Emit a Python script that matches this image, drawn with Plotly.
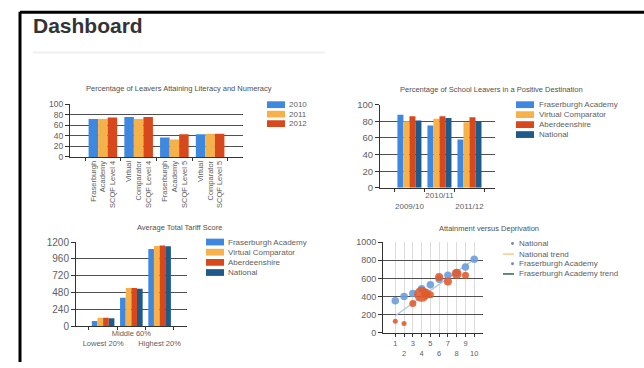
import plotly.graph_objects as go

W, H = 644, 368

# ---- data -------------------------------------------------------------
lit_categories = [
    "Fraserburgh<br>Academy<br>SCQF Level 4",
    "Virtual<br>Comparator<br>SCQF Level 4",
    "Fraserburgh<br>Academy<br>SCQF Level 5",
    "Virtual<br>Comparator<br>SCQF Level 5",
]
lit_years = ["2010", "2011", "2012"]
lit_2010 = [72, 76, 37, 43]
lit_2011 = [72, 72, 33, 44]
lit_2012 = [75, 76, 43, 44]

dest_categories = ["2009/10", "2010/11", "2011/12"]
dest_series = ["Fraserburgh Academy", "Virtual Comparator", "Aberdeenshire", "National"]
dest_fraserburgh = [88, 75, 58]
dest_virtual = [80, 83, 79]
dest_aberdeenshire = [86, 86, 85]
dest_national = [81, 84, 80]

tariff_categories = ["Lowest 20%", "Middle 60%", "Highest 20%"]
tariff_fraserburgh = [74, 405, 1100]
tariff_virtual = [120, 545, 1145]
tariff_aberdeenshire = [120, 545, 1150]
tariff_national = [115, 535, 1140]

deciles = [1, 2, 3, 4, 5, 6, 7, 8, 9, 10]
national_attainment = [355, 400, 435, 485, 530, 590, 635, 660, 725, 810]
fa_decile = [1, 2, 3, 4, 4.5, 5, 6, 7, 8, 9]
fa_attainment = [130, 105, 325, 425, 430, 420, 615, 565, 650, 635]
fa_pupils = [5, 5, 7, 15, 10, 7, 8, 8, 10, 7]
trend_decile = [1, 10]
trend_attainment = [190, 810]
scatter_legend = ["National", "National trend", "Fraserburgh Academy", "Fraserburgh Academy trend"]

# ---- styling ----------------------------------------------------------
BLUE = "#3f88e0"
AMBER = "#f6b24a"
RED = "#d8481d"
NAVY = "#1e5a8a"
TXT = "#606060"
GRID = "#505050"
FONT = "Liberation Sans, Arial, sans-serif"


def px(x):
    return x / W


def py(y):
    return 1 - y / H


fig = go.Figure()

# Chart 1: literacy and numeracy
for name, vals, col in zip(lit_years, [lit_2010, lit_2011, lit_2012], [BLUE, AMBER, RED]):
    fig.add_trace(go.Bar(x=lit_categories, y=vals, name=name, marker_color=col,
                         marker_line_width=0, xaxis="x", yaxis="y", showlegend=False))

# Chart 2: positive destinations
for name, vals, col in zip(dest_series,
                           [dest_fraserburgh, dest_virtual, dest_aberdeenshire, dest_national],
                           [BLUE, AMBER, RED, NAVY]):
    fig.add_trace(go.Bar(x=dest_categories, y=vals, name=name, marker_color=col,
                         marker_line_width=0, xaxis="x2", yaxis="y2", showlegend=False))

# Chart 3: tariff score
for name, vals, col in zip(dest_series,
                           [tariff_fraserburgh, tariff_virtual, tariff_aberdeenshire, tariff_national],
                           [BLUE, AMBER, RED, NAVY]):
    fig.add_trace(go.Bar(x=tariff_categories, y=vals, name=name, marker_color=col,
                         marker_line_width=0, xaxis="x3", yaxis="y3", showlegend=False))

# Chart 4: attainment versus deprivation
fig.add_trace(go.Scatter(x=trend_decile, y=trend_attainment, mode="lines",
                         line=dict(color="#a9c3e6", width=1.2),
                         xaxis="x4", yaxis="y4", showlegend=False))
fig.add_trace(go.Scatter(x=deciles, y=national_attainment, mode="markers",
                         marker=dict(size=7.5, color="#6c9de0", opacity=0.9, line_width=0),
                         xaxis="x4", yaxis="y4", showlegend=False))
fig.add_trace(go.Scatter(x=fa_decile, y=fa_attainment, mode="markers",
                         marker=dict(size=fa_pupils, color="#e0592a", opacity=0.88, line_width=0),
                         xaxis="x4", yaxis="y4", showlegend=False))


def yaxis_style(dom_top, dom_bot, rng, dtick, size):
    return dict(domain=[py(dom_bot), py(dom_top)], range=rng, dtick=dtick,
                showgrid=True, gridcolor=GRID, gridwidth=1, showline=True,
                linecolor="#333", linewidth=1, ticks="outside", ticklen=4,
                tickcolor="#333", zeroline=False, fixedrange=True,
                tickfont=dict(family=FONT, size=size, color=TXT))


def xaxis_style(left, right, rng, anchor, size, grid=False):
    return dict(domain=[px(left), px(right)], range=rng, anchor=anchor,
                showgrid=grid, gridcolor="#dcdcdc", gridwidth=1,
                showline=True, linecolor="#333", linewidth=1,
                zeroline=False, fixedrange=True, ticks="outside", ticklen=3,
                tickcolor="#333", tickfont=dict(family=FONT, size=size, color=TXT))


def stagger3(labels):
    return ["<br>" + labels[0], labels[1], "<br>" + labels[2]]


fig.update_layout(
    width=W, height=H, margin=dict(l=0, r=0, t=0, b=0),
    paper_bgcolor="white", plot_bgcolor="white",
    barmode="group", bargap=0.2, bargroupgap=0,
    xaxis=dict(**xaxis_style(70, 243, [-0.92, 3.92], "y", 7.5), type="category",
               tickangle=-90, tickson="boundaries"),
    yaxis=dict(**yaxis_style(101.7, 156, [0, 100], 20, 8.5), anchor="x"),
    xaxis2=dict(**xaxis_style(380, 495, [-0.98, 2.85], "y2", 8), type="category",
                tickmode="array", tickvals=dest_categories, ticktext=stagger3(dest_categories),
                tickson="boundaries", tickangle=0),
    yaxis2=dict(**yaxis_style(102, 188, [0, 100], 20, 9.5), anchor="x2"),
    xaxis3=dict(**xaxis_style(76, 187, [-0.96, 2.97], "y3", 7.5), type="category",
                tickmode="array", tickvals=tariff_categories, ticktext=stagger3(tariff_categories),
                tickson="boundaries", tickangle=0),
    yaxis3=dict(**yaxis_style(244, 331, [0, 1200], 240, 10), anchor="x3"),
    xaxis4=dict(**xaxis_style(383, 483, [-0.4, 11], "y4", 7.5, grid=True), tickmode="array",
                tickvals=deciles, tickangle=0,
                ticktext=[str(d) if d % 2 else "<br>" + str(d) for d in deciles]),
    yaxis4=dict(**yaxis_style(244, 338, [0, 1000], 200, 9), anchor="x4"),
)

shapes = []
annotations = []

# Frame and header
shapes.append(dict(type="line", xref="paper", yref="paper", x0=px(20), x1=px(20),
                   y0=py(6), y1=py(H), line=dict(color="black", width=3)))
shapes.append(dict(type="line", xref="paper", yref="paper", x0=px(20), x1=1,
                   y0=py(6.5), y1=py(6.5), line=dict(color="black", width=3)))
shapes.append(dict(type="line", xref="paper", yref="paper", x0=px(33), x1=px(325),
                   y0=py(48), y1=py(48), line=dict(color="#f0f0f0", width=2)))
annotations.append(dict(text="<b>Dashboard</b>", xref="paper", yref="paper",
                        x=px(31), y=py(20), xanchor="left", yanchor="middle",
                        showarrow=False, font=dict(family=FONT, size=21, color="#333")))

# Chart titles
titles = [
    ("Percentage of Leavers Attaining Literacy and Numeracy", 179, 85),
    ("Percentage of School Leavers in a Positive Destination", 491, 86),
    ("Average Total Tariff Score", 179, 229),
    ("Attainment versus Deprivation", 489, 230),
]
for t, x, y in titles:
    annotations.append(dict(text=t, xref="paper", yref="paper", x=px(x), y=py(y),
                            xanchor="center", yanchor="middle", showarrow=False,
                            font=dict(family=FONT, size=7.5, color="#505050")))


def swatch_legend(names, colors, x0, y0, step, text_x):
    for i, (n, c) in enumerate(zip(names, colors)):
        yc = y0 + i * step
        shapes.append(dict(type="rect", xref="paper", yref="paper",
                           x0=px(x0), x1=px(x0 + 18), y0=py(yc + 3.5), y1=py(yc - 3.5),
                           fillcolor=c, line_width=0))
        annotations.append(dict(text=n, xref="paper", yref="paper", x=px(text_x),
                                y=py(yc), xanchor="left", yanchor="middle", showarrow=False,
                                font=dict(family=FONT, size=8, color=TXT)))


swatch_legend(lit_years, [BLUE, AMBER, RED], 267, 102, 9.8, 287)
swatch_legend(dest_series, [BLUE, AMBER, RED, NAVY], 516, 102, 10.3, 537)
swatch_legend(dest_series, [BLUE, AMBER, RED, NAVY], 206, 244, 10.5, 226)

# Scatter legend: dots and short lines
leg_y = [245.5, 256.5, 266.5, 277]
for i, n in enumerate(scatter_legend):
    yc = leg_y[i]
    if "trend" in n:
        col = "#f2c88a" if i == 1 else "#1f5a3a"
        shapes.append(dict(type="line", xref="paper", yref="paper", x0=px(503), x1=px(514),
                           y0=py(yc), y1=py(yc), line=dict(color=col, width=1.4)))
    else:
        shapes.append(dict(type="circle", xref="paper", yref="paper", x0=px(511), x1=px(514),
                           y0=py(yc + 1.5), y1=py(yc - 1.5), fillcolor="#7a8aa0", line_width=0))
    annotations.append(dict(text=n, xref="paper", yref="paper", x=px(517), y=py(yc),
                            xanchor="left", yanchor="middle", showarrow=False,
                            font=dict(family=FONT, size=8, color=TXT)))

fig.update_layout(shapes=shapes, annotations=annotations)
fig.write_html("out.html")
